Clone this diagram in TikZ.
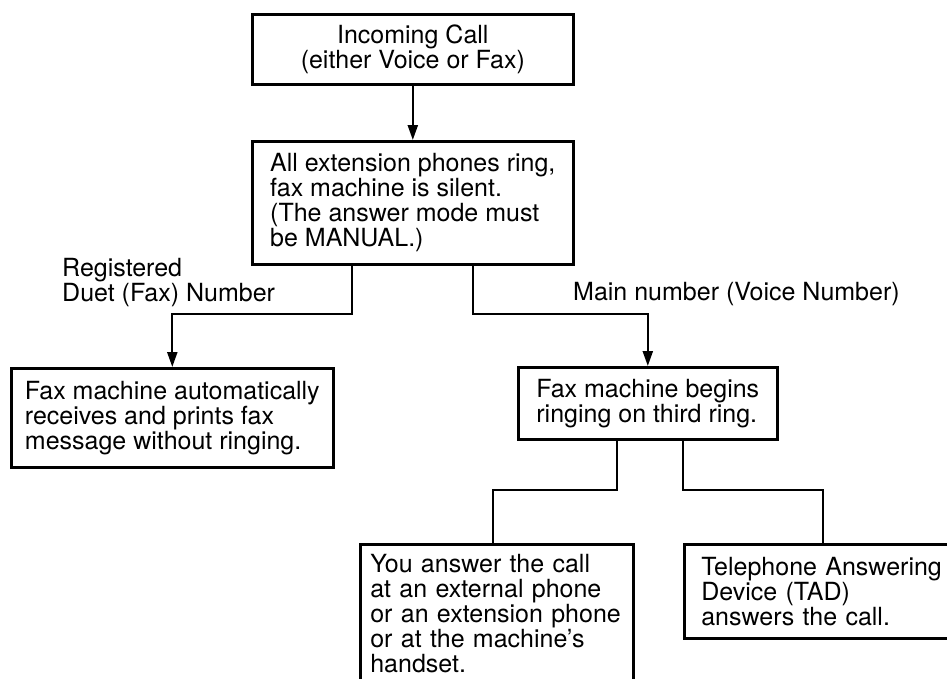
\documentclass[tikz,border=0pt]{standalone}
\usepackage{fontspec}
\setmainfont{TeX Gyre Heros}
\usetikzlibrary{arrows.meta, positioning, calc}

\begin{document}
\begin{tikzpicture}[x=1pt, y=-1pt,
  box/.style={rectangle, draw=black, line width=2.6pt, anchor=north west,
              align=left, inner xsep=17pt, font=\fontsize{25}{25}\selectfont},
  lbl/.style={inner sep=0pt, align=left, font=\fontsize{25}{25}\selectfont},
  conn/.style={line width=2.2pt, black},
  arr/.style={conn, -{Triangle[length=15pt, width=10pt]}}
]
  \useasboundingbox (0,0) rectangle (947,678);
  \clip (0,0) rectangle (947,678);

  \node[box, align=center, minimum width=321pt, minimum height=70pt] (call) at (251,13) {Incoming Call\\(either Voice or Fax)};
  \node[box, minimum width=321pt, minimum height=123pt] (ext) at (251,140) {All extension phones ring,\\fax machine is silent.\\(The answer mode must\\be MANUAL.)};

  \node[box, inner xsep=12pt, minimum width=322pt, minimum height=99pt] (auto) at (10,367) {Fax machine automatically\\receives and prints fax\\message without ringing.};
  \node[box, minimum width=259pt, minimum height=72pt] (ring) at (517,366) {Fax machine begins\\ringing on third ring.};

  % bottom row runs off the page
  \node[box, inner xsep=10pt, inner ysep=10pt, text width=253pt] (you) at (359,543) {You answer the call\\at an external phone\\or an extension phone\\or at the machine’s\\handset.};
  \node[box, text width=260pt, minimum height=94pt] (tad) at (683,543) {Telephone Answering\\Device (TAD)\\answers the call.};

  \node[lbl, anchor=north west] (duet) at (62,258) {Registered\\Duet (Fax) Number};
  \node[lbl, anchor=base west] (main) at (573,300) {Main number (Voice Number)};

  \draw[arr] (call) -- (ext);
  \draw[arr] ([xshift=101pt]ext.south west) -- ++(0,48) -| (auto.north);
  \draw[arr] ([xshift=222pt]ext.south west) -- ++(0,48) -| (ring.north);
  \draw[conn] ([xshift=100pt]ring.south west) -- ++(0,49) -| ([xshift=134pt]you.north west);
  \draw[conn] ([xshift=166pt]ring.south west) -- ++(0,49) -| ([xshift=140pt]tad.north west);
\end{tikzpicture}
\end{document}
